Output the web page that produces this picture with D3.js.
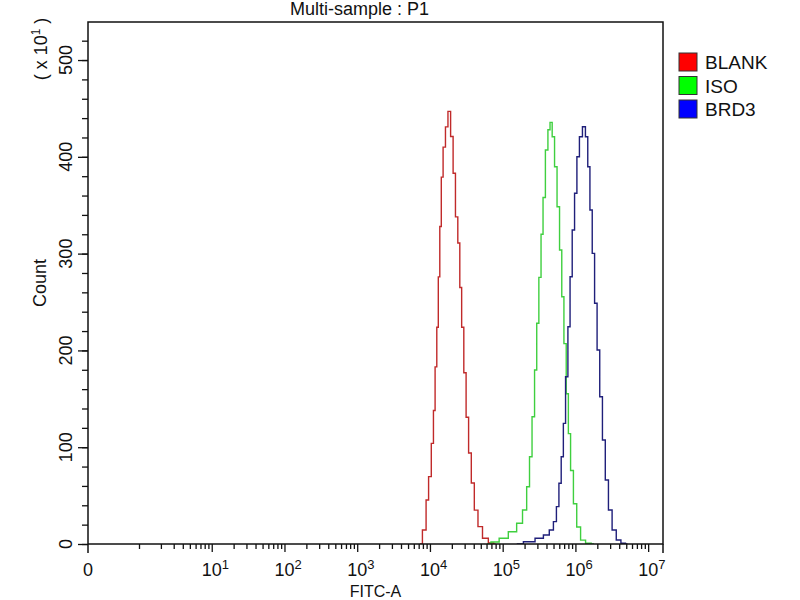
<!DOCTYPE html>
<html lang="en">
<head>
<meta charset="UTF-8">
<title>Multi-sample : P1</title>
<script src="https://cdn.jsdelivr.net/npm/d3@7"></script>
<style>
  body { margin: 0; background: #fff; }
  text { font-family: "Liberation Sans", Arial, sans-serif; fill: #111; }
</style>
</head>
<body>
<div id="output"></div>
<script>

// FITC-A channel values and counts (units of x10^1)
var blankFitc  = [7280, 8530, 9180, 10000, 10890, 11460, 12090, 12760, 13300, 14030, 14620, 15730, 16980, 18420,
                  20080, 21590, 23290, 25060, 26430, 28180, 30290, 32570, 35480, 38650, 42940, 48750, 57150, 70560, 80000];
var blankCount = [0, 14.5, 45.5, 69.6, 104, 138, 183, 224, 276, 328, 379, 410, 431, 447,
                  421, 383, 338, 311, 265, 224, 177, 131, 94, 63, 35, 18, 6, 1, 0];

var isoFitc  = [60800, 78400, 102000, 140000, 173000, 203000, 225000, 243000, 264000, 285000, 303000, 326000, 348000,
                370000, 404000, 434000, 462000, 497000, 537000, 582000, 629000, 670000, 721000, 775000, 826000,
                891000, 989000, 1099000, 1262000, 1507000, 1800000];
var isoCount = [0, 2, 5.9, 12.7, 21.4, 35.1, 59.2, 90.2, 131.5, 179.8, 228, 275.5, 320,
                358, 407, 428, 435.6, 420.8, 389.8, 348.5, 303.7, 255.5, 207, 155.3, 114,
                76, 41.6, 17.6, 4, 0.7, 0];

var brd3Fitc  = [156000, 238000, 326000, 404000, 473000, 525000, 572000, 615000, 661000, 705000, 760000, 818000,
                 871000, 937000, 1011000, 1087000, 1186000, 1316000, 1432000, 1526000, 1642000, 1766000, 1906000,
                 2069000, 2254000, 2455000, 2700000, 2997000, 3404000, 3900000, 4571000, 5200000];
var brd3Count = [0, 2.4, 5.9, 9.3, 14.5, 23.1, 38.6, 62.7, 90.2, 124.6, 172.8, 224.5,
                 276.1, 324.4, 362.3, 400.1, 420.8, 431.1, 420.8, 389.8, 345.1, 300.3, 248.7,
                 200.4, 152.1, 107.4, 66.1, 35.1, 14.5, 4.1, 0.7, 0];

var seriesNames  = ["BLANK", "ISO", "BRD3"];
var lineColors   = ["#c02a2a", "#3fcf3f", "#1f1f7a"];
var legendColors = ["#ff0000", "#00ff00", "#0000ff"];

var yMajorTicks = [0, 100, 200, 300, 400, 500];
var xDecades    = [1, 2, 3, 4, 5, 6, 7];

var w = 800, h = 600;
var plotLeft = 88, plotTop = 22, plotRight = 663, plotBottom = 544;
var zeroGap = 51;   // space between the "0" position and 10^0 on the FITC axis

var svg = d3.select("#output").append("svg")
    .attr("width", w)
    .attr("height", h);

var x = d3.scaleLog()
    .domain([1, 1.6e7])
    .range([plotLeft + zeroGap, plotRight]);

var y = d3.scaleLinear()
    .domain([0, 539.3])
    .range([plotBottom, plotTop]);

// clip
svg.append("clipPath").attr("id", "plot")
  .append("rect")
    .attr("x", plotLeft).attr("y", plotTop)
    .attr("width", plotRight - plotLeft).attr("height", plotBottom - plotTop);

// histograms
var series = [
    { fitc: blankFitc, count: blankCount },
    { fitc: isoFitc,   count: isoCount },
    { fitc: brd3Fitc,  count: brd3Count }
];

var line = d3.line()
    .x(function (d) { return x(d[0]); })
    .y(function (d) { return y(d[1]); })
    .curve(d3.curveStep);

svg.append("g")
    .attr("clip-path", "url(#plot)")
  .selectAll("path")
  .data(series)
  .enter().append("path")
    .attr("d", function (s) { return line(d3.zip(s.fitc, s.count)); })
    .attr("fill", "none")
    .attr("stroke", function (s, i) { return lineColors[i]; })
    .attr("stroke-width", 1.4);

function tickStyle(g) {
    g.select(".domain").remove();
    g.selectAll("line").attr("stroke", "#111").attr("stroke-width", 1.3);
}

// y axis: minor and major ticks
svg.append("g")
    .attr("transform", "translate(" + plotLeft + ",0)")
    .call(d3.axisLeft(y).tickValues(d3.range(0, 540, 20)).tickSize(6).tickFormat(""))
    .call(tickStyle);

svg.append("g")
    .attr("transform", "translate(" + plotLeft + ",0)")
    .call(d3.axisLeft(y).tickValues(yMajorTicks).tickSize(10).tickFormat(""))
    .call(tickStyle);

svg.append("g").selectAll("text")
  .data(yMajorTicks)
  .enter().append("text")
    .attr("transform", function (d) { return "translate(72," + y(d) + ") rotate(-90)"; })
    .attr("text-anchor", "middle")
    .style("font-size", "18px")
    .text(function (d) { return d; });

// x axis: minor ticks on each decade, major on powers of ten
var minorX = [];
for (var e = 0; e <= 7; e++) {
    for (var k = 1; k <= 9; k++) {
        var v = k * Math.pow(10, e);
        if (v <= 1.6e7 && !(k === 1 && e > 0)) minorX.push(v);
    }
}

svg.append("g")
    .attr("transform", "translate(0," + plotBottom + ")")
    .call(d3.axisBottom(x).tickValues(minorX).tickSize(5).tickFormat(""))
    .call(tickStyle);

svg.append("g")
    .attr("transform", "translate(0," + plotBottom + ")")
    .call(d3.axisBottom(x).tickValues(xDecades.map(function (p) { return Math.pow(10, p); })).tickSize(8).tickFormat(""))
    .call(tickStyle);

// zero tick and right edge drop
svg.append("line").attr("x1", plotLeft).attr("x2", plotLeft).attr("y1", plotBottom).attr("y2", plotBottom + 9)
    .attr("stroke", "#111").attr("stroke-width", 1.5);
svg.append("line").attr("x1", plotRight).attr("x2", plotRight).attr("y1", plotBottom).attr("y2", plotBottom + 9)
    .attr("stroke", "#111").attr("stroke-width", 1.5);

svg.append("text")
    .attr("x", plotLeft).attr("y", 576)
    .attr("text-anchor", "middle")
    .style("font-size", "18px")
    .text("0");

var xl = svg.append("g").selectAll("text")
  .data(xDecades)
  .enter().append("text")
    .attr("x", function (p) { return x(Math.pow(10, p)) - 10; })
    .attr("y", 576)
    .style("font-size", "18px");
xl.append("tspan").text("10");
xl.append("tspan")
    .attr("dy", -7)
    .style("font-size", "13px")
    .text(function (p) { return p; });

// frame
svg.append("rect")
    .attr("x", plotLeft).attr("y", plotTop)
    .attr("width", plotRight - plotLeft).attr("height", plotBottom - plotTop)
    .attr("fill", "none")
    .attr("stroke", "#111")
    .attr("stroke-width", 1.5);

// titles
svg.append("text")
    .attr("x", 290).attr("y", 15)
    .style("font-size", "18px")
    .text("Multi-sample : P1");

svg.append("text")
    .attr("x", (plotLeft + plotRight) / 2).attr("y", 597)
    .attr("text-anchor", "middle")
    .style("font-size", "16px")
    .text("FITC-A");

svg.append("text")
    .attr("transform", "translate(46," + (plotTop + plotBottom) / 2 + ") rotate(-90)")
    .attr("text-anchor", "middle")
    .style("font-size", "18px")
    .text("Count");

var mult = svg.append("text")
    .attr("transform", "translate(47,49) rotate(-90)")
    .attr("text-anchor", "middle")
    .style("font-size", "18px");
mult.append("tspan").text("( x 10");
mult.append("tspan").attr("dy", -7).style("font-size", "12px").text("1");
mult.append("tspan").attr("dy", 7).text(" )");

// legend
var legend = svg.append("g").selectAll("g")
  .data(seriesNames)
  .enter().append("g")
    .attr("transform", function (d, i) { return "translate(679," + (53 + i * 23.5) + ")"; });

legend.append("rect")
    .attr("width", 18).attr("height", 18)
    .attr("fill", function (d, i) { return legendColors[i]; })
    .attr("stroke", "#333")
    .attr("stroke-width", 1);

legend.append("text")
    .attr("x", 26).attr("y", 16)
    .style("font-size", "19px")
    .text(function (d) { return d; });

</script>
</body>
</html>
